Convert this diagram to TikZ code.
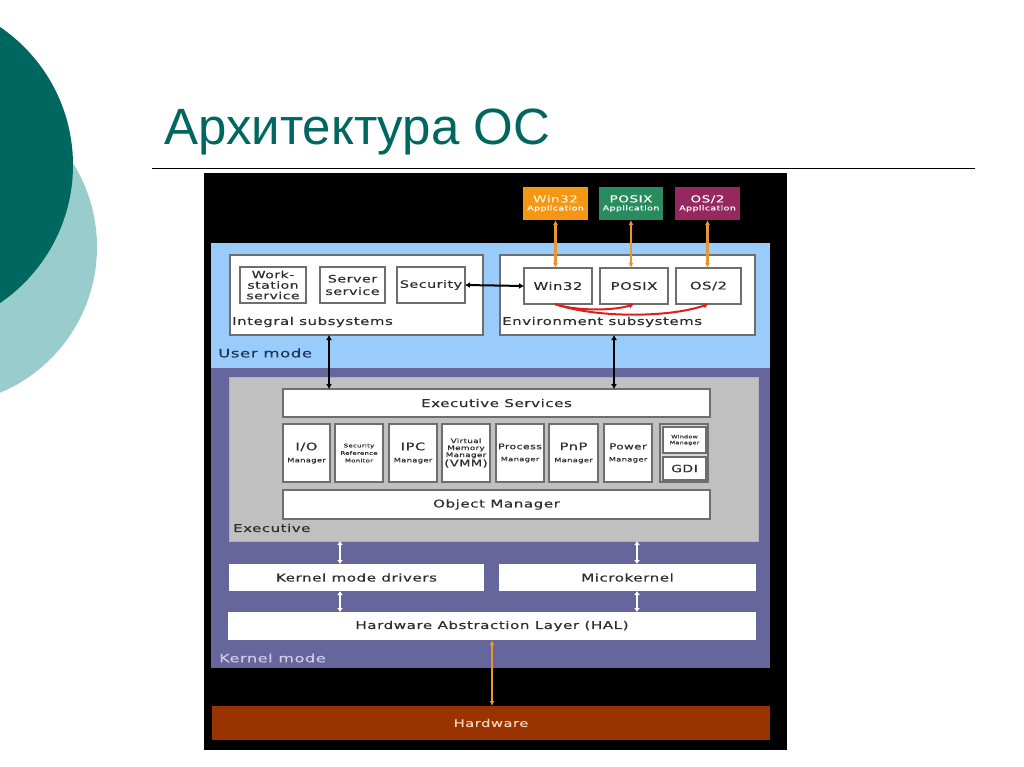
\documentclass[tikz,border=0pt]{standalone}
\usepackage{fontspec}
\setmainfont{Liberation Sans}
\newfontfamily\diag[FakeStretch=1.4, LetterSpace=5, FakeBold=0.3]{DejaVu Sans}
\usetikzlibrary{arrows.meta}
\definecolor{tealD}{RGB}{0,102,96}
\definecolor{tealL}{RGB}{153,204,204}
\definecolor{umblue}{RGB}{153,204,250}
\definecolor{kpurple}{RGB}{102,102,156}
\definecolor{egray}{RGB}{192,192,192}
\definecolor{hwbrown}{RGB}{153,51,0}
\definecolor{appor}{RGB}{245,150,20}
\definecolor{appgr}{RGB}{40,140,95}
\definecolor{apppu}{RGB}{150,40,95}
\definecolor{arror}{RGB}{230,150,50}
\definecolor{arrred}{RGB}{220,30,30}
\definecolor{bxline}{RGB}{110,110,110}
\definecolor{txt}{RGB}{45,45,45}
\definecolor{umtxt}{RGB}{30,50,90}
\definecolor{kmtxt}{RGB}{205,205,235}
\newcommand\fsz[2]{\fontsize{#1}{#2}\selectfont}
\newcommand\bx[7]{\node[#6, minimum width=#4-#2, minimum height=#5-#3] (#1) at ({(#2+#4)/2},{(#3+#5)/2}) {#7};}
\tikzset{
  base/.style={inner sep=0pt, outer sep=0pt, align=center, text=txt},
  wbox/.style={base, draw=bxline, line width=1.2pt, fill=white, font=\diag\fsz{10.8}{12}},
  area/.style={base, draw=none},
  appbox/.style={base, draw=none, text=white, font=\diag\fsz{9.7}{9}},
  lbl/.style={inner sep=0pt, anchor=west, text=txt, font=\diag\fsz{10.7}{12}},
  oarr/.style={draw=arror, line width=2.2pt, {Latex[length=5pt,width=5pt]}-{Latex[length=5pt,width=5pt]}},
  barr/.style={draw=black, line width=2pt, {Latex[length=5pt,width=6pt]}-{Latex[length=5pt,width=6pt]}},
  warr/.style={draw=white, line width=2pt, {Latex[length=4pt,width=6pt]}-{Latex[length=4pt,width=6pt]}},
  rarr/.style={draw=arrred, line width=2pt, -{Latex[length=5pt,width=6pt]}},
}
\begin{document}
\begin{tikzpicture}[x=1pt,y=-1pt]
\useasboundingbox (0,0) rectangle (1024,767);
\fill[white] (0,0) rectangle (1024,767);
% slide decoration
\fill[tealL] (-61,247) circle (158);
\fill[tealD] (-94,165) circle (167);
\node[anchor=base west, inner sep=0pt, text=tealD, font=\fsz{51}{60}] (title) at (164,145) {Архитектура ОС};
\draw[line width=1pt] (152,169) -- (975,169);
% diagram background
\bx{frame}{204}{173}{787}{750}{area, fill=black}{}
\bx{um}{211}{243}{770}{368}{area, fill=umblue}{}
\bx{km}{211}{368}{770}{668}{area, fill=kpurple}{}
\node[lbl, text=umtxt, font=\diag\fsz{11.8}{14}] (umlbl) at (218,353) {User mode};
\node[lbl, text=kmtxt, font=\diag\fsz{11.5}{14}] (kmlbl) at (219,658) {Kernel mode};
% applications
\bx{aw}{523}{187}{588}{220}{appbox, fill=appor}{{\color[RGB]{255,240,190}Win32}\\[-1pt]{\fsz{6.8}{8}Application}}
\bx{ap}{599}{187}{663}{220}{appbox, fill=appgr}{POSIX\\[-1pt]{\fsz{6.8}{8}Application}}
\bx{ao}{675}{187}{740}{220}{appbox, fill=apppu}{OS/2\\[-1pt]{\fsz{6.8}{8}Application}}
% user mode subsystems
\bx{integral}{230}{255}{483}{335}{wbox}{}
\bx{env}{500}{255}{755}{335}{wbox}{}
\node[lbl] (intlbl) at (232,322) {Integral subsystems};
\node[lbl] (envlbl) at (502,322) {Environment subsystems};
\bx{ws}{240}{267}{306}{303}{wbox, font=\diag\fsz{10}{10.5}}{Work-\\station\\service}
\bx{ss}{320}{267}{385}{303}{wbox, font=\diag\fsz{10.2}{12.5}}{Server\\service}
\bx{sec}{397}{267}{465}{303}{wbox, font=\diag\fsz{10.2}{12}}{Security}
\bx{w32}{524}{268}{592}{304}{wbox, font=\diag\fsz{10.6}{12}}{Win32}
\bx{posix}{600}{268}{668}{304}{wbox, font=\diag\fsz{10.6}{12}}{POSIX}
\bx{os2}{676}{268}{741}{304}{wbox, font=\diag\fsz{10.6}{12}}{OS/2}
% executive
\bx{ex}{229}{377}{758}{541}{area, fill=egray, draw=gray!60, line width=0.8pt}{}
\node[lbl] (exlbl) at (233,528) {Executive};
\bx{es}{283}{389}{710}{417}{wbox}{Executive Services}
\bx{io}{283}{424}{330}{482}{wbox}{{\fsz{10.5}{11}I/O}\\{\fsz{6}{7}Manager}}
\bx{srm}{335}{424}{383}{482}{wbox, font=\diag\fsz{5}{7.5}}{Security\\Reference\\Monitor}
\bx{ipc}{389}{424}{437}{482}{wbox}{{\fsz{10.5}{11}IPC}\\{\fsz{6}{7}Manager}}
\bx{vmm}{442}{424}{490}{482}{wbox, font=\diag\fsz{6.3}{7}}{Virtual\\Memory\\Manager\\{\fsz{9.3}{10}(VMM)}}
\bx{proc}{496}{424}{544}{482}{wbox}{{\fsz{7.8}{9}Process}\\{\fsz{6}{7}Manager}}
\bx{pnp}{549}{424}{598}{482}{wbox}{{\fsz{10.5}{11}PnP}\\{\fsz{6}{7}Manager}}
\bx{pow}{604}{424}{652}{482}{wbox}{{\fsz{8.5}{10}Power}\\{\fsz{6}{7}Manager}}
\bx{wg}{660}{424}{708}{482}{wbox, fill=egray!60}{}
\bx{wm}{663}{427}{706}{453}{wbox, font=\diag\fsz{4.6}{6}}{Window\\Manager}
\bx{gdi}{663}{457}{706}{480}{wbox, font=\diag\fsz{10}{10}}{GDI}
\bx{om}{283}{490}{710}{519}{wbox}{Object Manager}
% kernel
\bx{kmd}{229}{564}{484}{591}{wbox, draw=none}{Kernel mode drivers}
\bx{mk}{499}{564}{756}{591}{wbox, draw=none}{Microkernel}
\bx{hal}{228}{612}{756}{640}{wbox, draw=none}{Hardware Abstraction Layer (HAL)}
\bx{hw}{212}{706}{770}{740}{area, fill=hwbrown, text={rgb,255:red,245;green,215;blue,190}, font=\diag\fsz{10.5}{12}}{Hardware}
% connectors
\coordinate (cA) at (329,0);
\coordinate (cB) at (614,0);
\coordinate (cL) at (340,0);
\coordinate (cR) at (637,0);
\coordinate (cH) at (492,0);
\draw[oarr] (aw.south) -- (aw.south |- w32.north);
\draw[oarr] (ap.south) -- (ap.south |- posix.north);
\draw[oarr] (ao.south) -- (ao.south |- os2.north);
\draw[barr] (sec.east) -- (w32.west);
\draw[rarr] ([xshift=-3pt]w32.south) .. controls +(20,7) and +(-20,7) .. (posix.south);
\draw[rarr] ([xshift=-3pt]w32.south) .. controls +(40,14) and +(-40,14) .. (os2.south);
\draw[barr] (integral.south -| cA) -- (es.north -| cA);
\draw[barr] (env.south -| cB) -- (es.north -| cB);
\draw[warr] (ex.south -| cL) -- (kmd.north -| cL);
\draw[warr] (ex.south -| cR) -- (mk.north -| cR);
\draw[warr] (kmd.south -| cL) -- (hal.north -| cL);
\draw[warr] (mk.south -| cR) -- (hal.north -| cR);
\draw[oarr, line width=1.8pt] (hal.south -| cH) -- (hw.north -| cH);
\end{tikzpicture}
\end{document}
